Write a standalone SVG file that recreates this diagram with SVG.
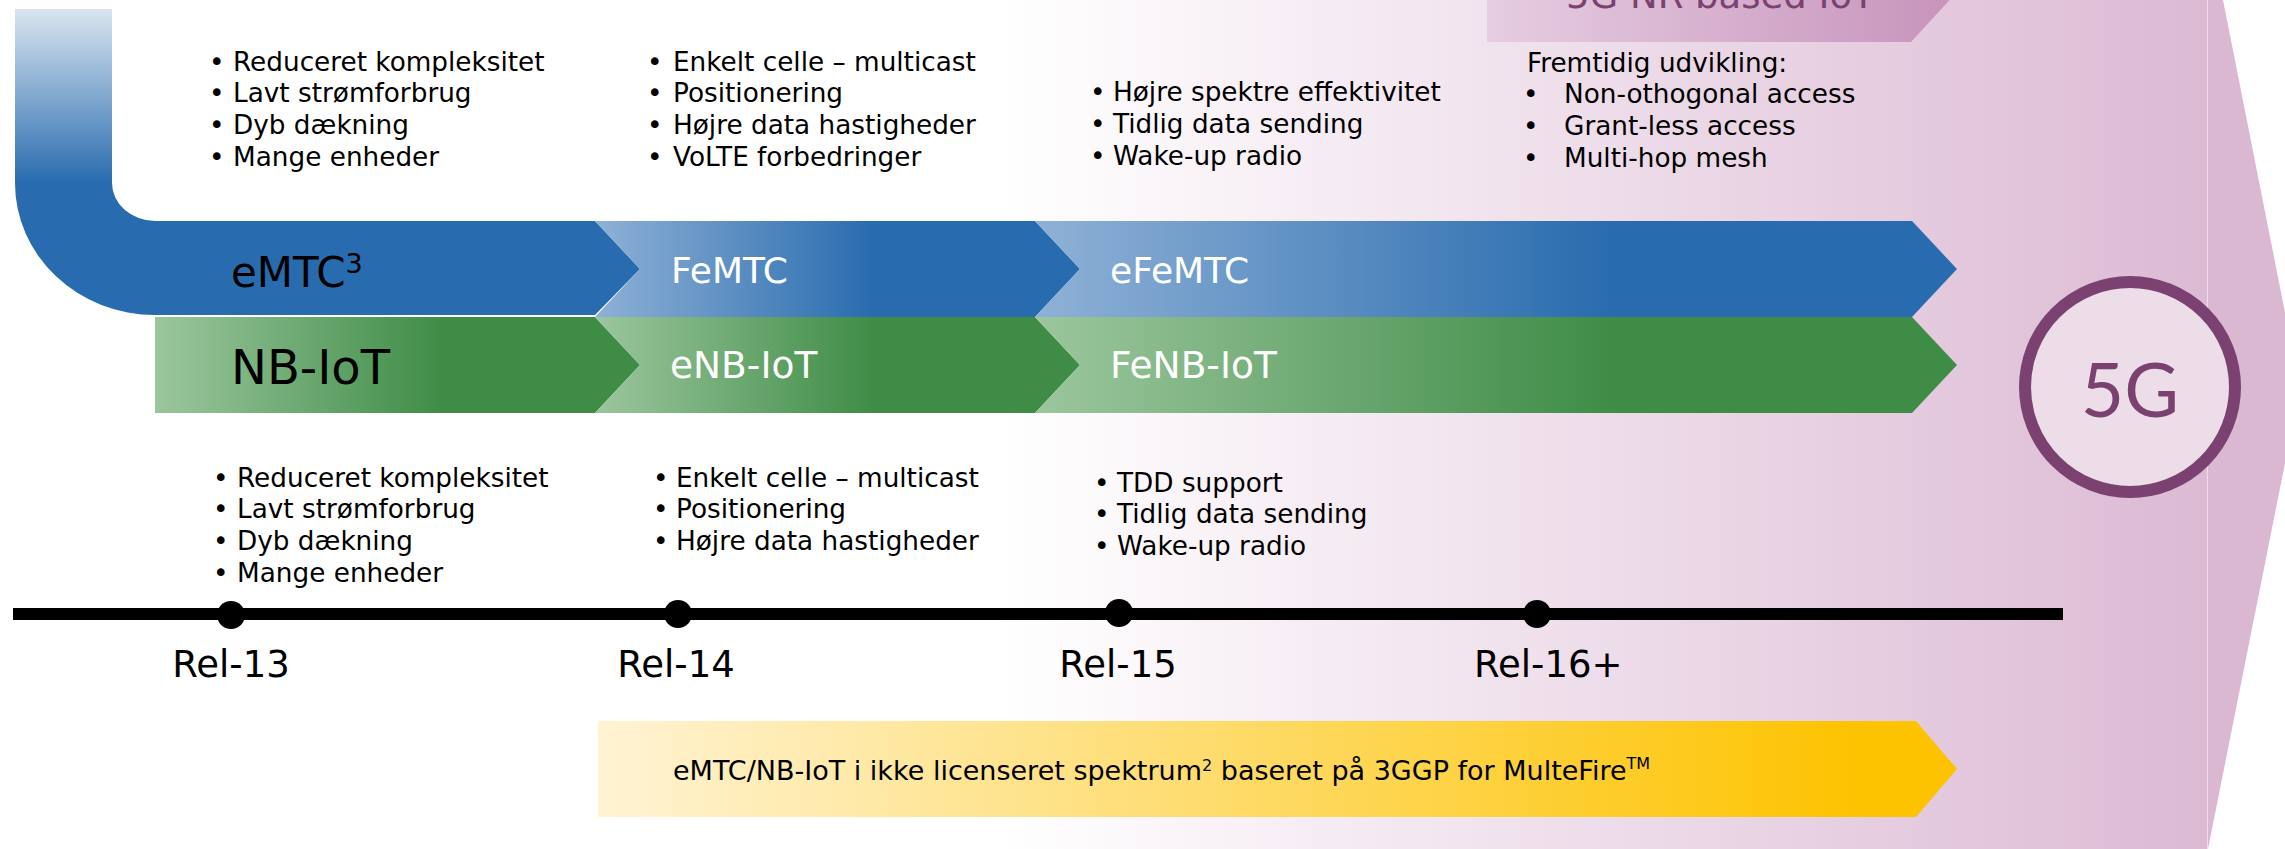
<svg xmlns="http://www.w3.org/2000/svg" width="2285" height="849" viewBox="0 0 2285 849">
<defs>
<style>
text{font-family:'DejaVu Sans',Verdana,sans-serif;fill:#000}
.bul{font-size:26.3px}
.rel{font-size:37px}
.band{font-size:36px;fill:#fff}
.band2{font-size:37.5px;fill:#fff}
.p{fill:#7b4170}
</style>
<linearGradient id="bg" gradientUnits="userSpaceOnUse" x1="1000" y1="0" x2="2207" y2="0"><stop offset="0" stop-color="#ffffff"/><stop offset="1" stop-color="#dcbad4"/></linearGradient>
<linearGradient id="fade" x1="0" y1="0" x2="0" y2="1"><stop offset="0" stop-color="#dae5f0"/><stop offset="1" stop-color="#286bae"/></linearGradient>
<linearGradient id="b2" x1="0" y1="0" x2="1" y2="0"><stop offset="0" stop-color="#8fb1d6"/><stop offset="0.58" stop-color="#286bae"/></linearGradient>
<linearGradient id="b3" x1="0" y1="0" x2="1" y2="0"><stop offset="0" stop-color="#8fb1d6"/><stop offset="0.63" stop-color="#286bae"/></linearGradient>
<linearGradient id="g1" x1="0" y1="0" x2="1" y2="0"><stop offset="0" stop-color="#9cc69e"/><stop offset="0.6" stop-color="#3e8c46"/></linearGradient>
<linearGradient id="g2" x1="0" y1="0" x2="1" y2="0"><stop offset="0" stop-color="#9cc69e"/><stop offset="0.58" stop-color="#3e8c46"/></linearGradient>
<linearGradient id="g3" x1="0" y1="0" x2="1" y2="0"><stop offset="0" stop-color="#9cc69e"/><stop offset="0.63" stop-color="#3e8c46"/></linearGradient>
<linearGradient id="yl" x1="0" y1="0" x2="1" y2="0"><stop offset="0" stop-color="#fff3d3"/><stop offset="0.93" stop-color="#fdc300"/></linearGradient>
<linearGradient id="nr" x1="0" y1="0" x2="1" y2="0"><stop offset="0" stop-color="#e6cde1"/><stop offset="1" stop-color="#c793bb"/></linearGradient>
</defs>

<g id="background">
<rect x="0" y="0" width="2207" height="849" fill="url(#bg)"/>
<polygon points="2207,0 2223,0 2300,388 2208,849 2207,849" fill="#dab8d2"/>
<line x1="2207.5" y1="0" x2="2207.5" y2="849" stroke="#eddeea" stroke-width="1"/>
</g>

<g id="nr-iot">
<polygon points="1487,-60 1911,-60 1957,-8 1911,42 1487,42" fill="url(#nr)"/>
<text x="1566" y="8" class="p" style="font-size:37px">5G NR based IoT</text>
</g>

<g id="emtc">
<rect x="15" y="9" width="97" height="175" fill="url(#fade)"/>
<path d="M15,183 A140,132 0 0 0 155,315 L595,315 L640,269 L595,221 L155,221 A43,38 0 0 1 112,183 Z" fill="#286bae"/>
<text x="231" y="287" style="font-size:42px">eMTC<tspan dy="-14" style="font-size:27px">3</tspan></text>
</g>
<g id="femtc">
<polygon points="595,221 1035,221 1080,269 1035,317 595,317 640,269" fill="url(#b2)"/>
<text x="671" y="283" class="band">FeMTC</text>
</g>
<g id="efemtc">
<polygon points="1035,221 1912,221 1957,269 1912,317 1035,317 1080,269" fill="url(#b3)"/>
<text x="1110" y="283" class="band">eFeMTC</text>
</g>

<g id="nbiot">
<polygon points="155,317 595,317 640,365 595,413 155,413" fill="url(#g1)"/>
<text x="231" y="384" style="font-size:48px">NB-IoT</text>
</g>
<g id="enbiot">
<polygon points="595,317 1035,317 1080,365 1035,413 595,413 640,365" fill="url(#g2)"/>
<text x="670" y="378" class="band2">eNB-IoT</text>
</g>
<g id="fenbiot">
<polygon points="1035,317 1912,317 1957,365 1912,413 1035,413 1080,365" fill="url(#g3)"/>
<text x="1110" y="378" class="band2">FeNB-IoT</text>
</g>

<g id="rel13-emtc-features">
<text class="bul"><tspan x="209" y="71">•</tspan><tspan x="233" y="71">Reduceret kompleksitet</tspan></text>
<text class="bul"><tspan x="209" y="102">•</tspan><tspan x="233" y="102">Lavt strømforbrug</tspan></text>
<text class="bul"><tspan x="209" y="134">•</tspan><tspan x="233" y="134">Dyb dækning</tspan></text>
<text class="bul"><tspan x="209" y="166">•</tspan><tspan x="233" y="166">Mange enheder</tspan></text>
</g>
<g id="rel14-emtc-features">
<text class="bul"><tspan x="647" y="71">•</tspan><tspan x="673" y="71">Enkelt celle – multicast</tspan></text>
<text class="bul"><tspan x="647" y="102">•</tspan><tspan x="673" y="102">Positionering</tspan></text>
<text class="bul"><tspan x="647" y="134">•</tspan><tspan x="673" y="134">Højre data hastigheder</tspan></text>
<text class="bul"><tspan x="647" y="166">•</tspan><tspan x="673" y="166">VoLTE forbedringer</tspan></text>
</g>
<g id="rel15-emtc-features">
<text class="bul"><tspan x="1090" y="101">•</tspan><tspan x="1113" y="101">Højre spektre effektivitet</tspan></text>
<text class="bul"><tspan x="1090" y="133">•</tspan><tspan x="1113" y="133">Tidlig data sending</tspan></text>
<text class="bul"><tspan x="1090" y="165">•</tspan><tspan x="1113" y="165">Wake-up radio</tspan></text>
</g>
<g id="rel16-features">
<text class="bul" x="1527" y="72">Fremtidig udvikling:</text>
<text class="bul"><tspan x="1523" y="103">•</tspan><tspan x="1564" y="103">Non-othogonal access</tspan></text>
<text class="bul"><tspan x="1523" y="135">•</tspan><tspan x="1564" y="135">Grant-less access</tspan></text>
<text class="bul"><tspan x="1523" y="167">•</tspan><tspan x="1564" y="167">Multi-hop mesh</tspan></text>
</g>

<g id="rel13-nbiot-features">
<text class="bul"><tspan x="213" y="487">•</tspan><tspan x="237" y="487">Reduceret kompleksitet</tspan></text>
<text class="bul"><tspan x="213" y="518">•</tspan><tspan x="237" y="518">Lavt strømforbrug</tspan></text>
<text class="bul"><tspan x="213" y="550">•</tspan><tspan x="237" y="550">Dyb dækning</tspan></text>
<text class="bul"><tspan x="213" y="582">•</tspan><tspan x="237" y="582">Mange enheder</tspan></text>
</g>
<g id="rel14-nbiot-features">
<text class="bul"><tspan x="653" y="487">•</tspan><tspan x="676" y="487">Enkelt celle – multicast</tspan></text>
<text class="bul"><tspan x="653" y="518">•</tspan><tspan x="676" y="518">Positionering</tspan></text>
<text class="bul"><tspan x="653" y="550">•</tspan><tspan x="676" y="550">Højre data hastigheder</tspan></text>
</g>
<g id="rel15-nbiot-features">
<text class="bul"><tspan x="1094" y="492">•</tspan><tspan x="1117" y="492">TDD support</tspan></text>
<text class="bul"><tspan x="1094" y="523">•</tspan><tspan x="1117" y="523">Tidlig data sending</tspan></text>
<text class="bul"><tspan x="1094" y="555">•</tspan><tspan x="1117" y="555">Wake-up radio</tspan></text>
</g>

<g id="connectors">
<line x1="13" y1="614" x2="2063" y2="614" stroke="#000" stroke-width="12"/>
</g>

<g id="rel13"><circle cx="231" cy="615" r="14" fill="#000"/><text class="rel" x="231" y="677" text-anchor="middle">Rel-13</text></g>
<g id="rel14"><circle cx="678" cy="614" r="14" fill="#000"/><text class="rel" x="676" y="677" text-anchor="middle">Rel-14</text></g>
<g id="rel15"><circle cx="1119" cy="613" r="14" fill="#000"/><text class="rel" x="1118" y="677" text-anchor="middle">Rel-15</text></g>
<g id="rel16"><circle cx="1537" cy="614" r="14" fill="#000"/><text class="rel" x="1474" y="677">Rel-16+</text></g>

<g id="multefire">
<polygon points="598,721 1916,721 1957,769 1916,817 598,817" fill="url(#yl)"/>
<text x="673" y="780" style="font-size:27px">eMTC/NB-IoT i ikke licenseret spektrum<tspan dy="-9" style="font-size:16px">2</tspan><tspan dy="9"> baseret på 3GGP for MulteFire</tspan><tspan dy="-11" style="font-size:16px">TM</tspan></text>
</g>

<g id="fiveg">
<circle cx="2130" cy="387" r="105" fill="#ecdde8" stroke="#7b4170" stroke-width="12"/>
<text x="2130" y="417" text-anchor="middle" class="p" style="font-family:Lato,'Open Sans',sans-serif;font-size:75px">5G</text>
</g>
</svg>
